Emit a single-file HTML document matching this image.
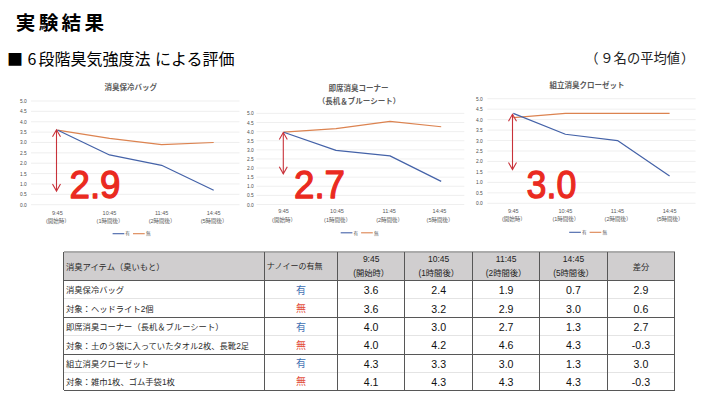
<!DOCTYPE html>
<html lang="ja"><head><meta charset="utf-8">
<style>
html,body{margin:0;padding:0;background:#fff;}
body{width:720px;height:405px;overflow:hidden;position:relative;font-family:"Liberation Sans","Noto Sans CJK JP",sans-serif;color:#000;}
.abs{position:absolute;white-space:nowrap;}
#title{left:15.8px;top:8.6px;font-size:19.6px;font-weight:bold;letter-spacing:3.3px;line-height:28px;}
#sub{left:7px;top:46px;font-size:16px;line-height:24px;}
.sq{font-family:"Noto Sans CJK JP",sans-serif;}
#avg{left:587px;top:49px;font-size:13.3px;line-height:20px;color:#222;}
svg{position:absolute;left:0;top:0;}
.yl{font-size:4.85px;fill:#4d4d4d;text-anchor:end;font-family:"Liberation Sans","Noto Sans CJK JP",sans-serif;}
.xl{font-size:5.5px;fill:#595959;text-anchor:middle;font-family:"Liberation Sans","Noto Sans CJK JP",sans-serif;}
.lg{font-size:4.6px;fill:#595959;font-family:"Liberation Sans","Noto Sans CJK JP",sans-serif;}
.tt{font-size:7.5px;fill:#595959;font-weight:bold;text-anchor:middle;font-family:"Liberation Sans","Noto Sans CJK JP",sans-serif;}
.big{font-size:39.5px;fill:#ea2a20;stroke:#ea2a20;stroke-width:1.3px;stroke-linejoin:round;font-weight:normal;font-family:"Liberation Sans",sans-serif;}
.hbg{position:absolute;background:#d0cecf;}
.ht,.td{position:absolute;white-space:nowrap;display:flex;align-items:center;box-sizing:border-box;}
.c{justify-content:center;text-align:center;}
.ht{font-size:8.3px;color:#2a2a2a;}
.ht2{position:absolute;text-align:center;white-space:nowrap;color:#222;height:12px;line-height:12px;}
.ht2.l1{top:253.3px;font-size:8.5px;}
.ht2.l2{top:267px;font-size:8.3px;}
.td{font-size:8.3px;color:#2a2a2a;}
.td.num{font-size:10.6px;color:#111;padding-top:1.2px;}
.yu{color:#3f70b3;font-size:10px;padding-bottom:0.8px;}
.mu{color:#e24e40;font-size:10px;padding-bottom:0.8px;}
.hl{position:absolute;height:1px;}
.hl.top{background:#ababab;height:1.5px;}
.hl.dark{background:#575757;}
.hl.light{background:#e4e4e4;}
.vl{position:absolute;width:1px;background:#575757;}
</style></head><body>
<div class="abs" id="title">実験結果</div>
<div class="abs" id="sub"><span class="sq">■</span> <span class="sq" style="letter-spacing:2.2px">6</span>段階臭気強度法 による評価</div>
<div class="abs" id="avg"><span style="position:relative;left:-1.7px">（</span>９名の平均値<span style="position:relative;left:1px">）</span></div>
<svg width="720" height="405" viewBox="0 0 720 405">
<line x1="31" y1="204.70" x2="239.50" y2="204.70" stroke="#e6e6e6" stroke-width="0.65"/>
<text x="26.7" y="206.70" class="yl">0.0</text>
<line x1="31" y1="194.33" x2="239.50" y2="194.33" stroke="#e6e6e6" stroke-width="0.65"/>
<text x="26.7" y="196.33" class="yl">0.5</text>
<line x1="31" y1="183.96" x2="239.50" y2="183.96" stroke="#e6e6e6" stroke-width="0.65"/>
<text x="26.7" y="185.96" class="yl">1.0</text>
<line x1="31" y1="173.59" x2="239.50" y2="173.59" stroke="#e6e6e6" stroke-width="0.65"/>
<text x="26.7" y="175.59" class="yl">1.5</text>
<line x1="31" y1="163.22" x2="239.50" y2="163.22" stroke="#e6e6e6" stroke-width="0.65"/>
<text x="26.7" y="165.22" class="yl">2.0</text>
<line x1="31" y1="152.85" x2="239.50" y2="152.85" stroke="#e6e6e6" stroke-width="0.65"/>
<text x="26.7" y="154.85" class="yl">2.5</text>
<line x1="31" y1="142.48" x2="239.50" y2="142.48" stroke="#e6e6e6" stroke-width="0.65"/>
<text x="26.7" y="144.48" class="yl">3.0</text>
<line x1="31" y1="132.11" x2="239.50" y2="132.11" stroke="#e6e6e6" stroke-width="0.65"/>
<text x="26.7" y="134.11" class="yl">3.5</text>
<line x1="31" y1="121.74" x2="239.50" y2="121.74" stroke="#e6e6e6" stroke-width="0.65"/>
<text x="26.7" y="123.74" class="yl">4.0</text>
<line x1="31" y1="111.37" x2="239.50" y2="111.37" stroke="#e6e6e6" stroke-width="0.65"/>
<text x="26.7" y="113.37" class="yl">4.5</text>
<line x1="31" y1="101.00" x2="239.50" y2="101.00" stroke="#e6e6e6" stroke-width="0.65"/>
<text x="26.7" y="103.00" class="yl">5.0</text>
<text x="57.40" y="214.70" class="xl">9:45</text>
<text x="57.90" y="222.50" class="xl">(開始時）</text>
<text x="109.50" y="214.70" class="xl">10:45</text>
<text x="110.00" y="222.50" class="xl">(1時間後）</text>
<text x="161.60" y="214.70" class="xl">11:45</text>
<text x="162.10" y="222.50" class="xl">(2時間後）</text>
<text x="213.70" y="214.70" class="xl">14:45</text>
<text x="214.20" y="222.50" class="xl">(5時間後）</text>
<text x="130.8" y="90.30" class="tt">消臭保冷バッグ</text>
<polyline points="57.40,130.04 109.50,138.33 161.60,144.55 213.70,142.48" fill="none" stroke="#dc8350" stroke-width="1.2" stroke-linejoin="round"/>
<polyline points="57.40,130.04 109.50,154.92 161.60,165.29 213.70,190.18" fill="none" stroke="#4462a8" stroke-width="1.2" stroke-linejoin="round"/>
<line x1="112.6" y1="233.7" x2="124.3" y2="233.7" stroke="#4462a8" stroke-width="1.1"/>
<text x="125.3" y="235.39999999999998" class="lg">有</text>
<line x1="133.0" y1="233.7" x2="144.7" y2="233.7" stroke="#dc8350" stroke-width="1.1"/>
<text x="146.0" y="235.39999999999998" class="lg">無</text>
<line x1="56.5" y1="129.8" x2="56.5" y2="191.1" stroke="#c8323a" stroke-width="1.1"/>
<polyline points="52.5,136.8 56.5,129.8 60.5,136.8" fill="none" stroke="#c8323a" stroke-width="1.1"/>
<polyline points="52.5,184.1 56.5,191.1 60.5,184.1" fill="none" stroke="#c8323a" stroke-width="1.1"/>
<text transform="translate(69.50,197.50) scale(0.93,1)" class="big">2.9</text>
<line x1="256.5" y1="204.50" x2="464.30" y2="204.50" stroke="#e6e6e6" stroke-width="0.65"/>
<text x="253.8" y="206.50" class="yl">0.0</text>
<line x1="256.5" y1="195.39" x2="464.30" y2="195.39" stroke="#e6e6e6" stroke-width="0.65"/>
<text x="253.8" y="197.39" class="yl">0.5</text>
<line x1="256.5" y1="186.28" x2="464.30" y2="186.28" stroke="#e6e6e6" stroke-width="0.65"/>
<text x="253.8" y="188.28" class="yl">1.0</text>
<line x1="256.5" y1="177.17" x2="464.30" y2="177.17" stroke="#e6e6e6" stroke-width="0.65"/>
<text x="253.8" y="179.17" class="yl">1.5</text>
<line x1="256.5" y1="168.06" x2="464.30" y2="168.06" stroke="#e6e6e6" stroke-width="0.65"/>
<text x="253.8" y="170.06" class="yl">2.0</text>
<line x1="256.5" y1="158.95" x2="464.30" y2="158.95" stroke="#e6e6e6" stroke-width="0.65"/>
<text x="253.8" y="160.95" class="yl">2.5</text>
<line x1="256.5" y1="149.84" x2="464.30" y2="149.84" stroke="#e6e6e6" stroke-width="0.65"/>
<text x="253.8" y="151.84" class="yl">3.0</text>
<line x1="256.5" y1="140.73" x2="464.30" y2="140.73" stroke="#e6e6e6" stroke-width="0.65"/>
<text x="253.8" y="142.73" class="yl">3.5</text>
<line x1="256.5" y1="131.62" x2="464.30" y2="131.62" stroke="#e6e6e6" stroke-width="0.65"/>
<text x="253.8" y="133.62" class="yl">4.0</text>
<line x1="256.5" y1="122.51" x2="464.30" y2="122.51" stroke="#e6e6e6" stroke-width="0.65"/>
<text x="253.8" y="124.51" class="yl">4.5</text>
<line x1="256.5" y1="113.40" x2="464.30" y2="113.40" stroke="#e6e6e6" stroke-width="0.65"/>
<text x="253.8" y="115.40" class="yl">5.0</text>
<text x="283.50" y="213.30" class="xl">9:45</text>
<text x="284.00" y="221.90" class="xl">(開始時）</text>
<text x="337.00" y="213.30" class="xl">10:45</text>
<text x="337.50" y="221.90" class="xl">(1時間後）</text>
<text x="389.20" y="213.30" class="xl">11:45</text>
<text x="389.70" y="221.90" class="xl">(2時間後）</text>
<text x="439.50" y="213.30" class="xl">14:45</text>
<text x="440.00" y="221.90" class="xl">(5時間後）</text>
<text x="358.6" y="91.10" class="tt">即席消臭コーナー</text>
<text x="359" y="104.20" class="tt">（長机＆ブルーシート）</text>
<polyline points="283.70,132.22 336.00,128.58 390.00,121.29 441.20,126.75" fill="none" stroke="#dc8350" stroke-width="1.2" stroke-linejoin="round"/>
<polyline points="283.70,132.22 336.00,150.44 390.00,155.91 441.20,181.41" fill="none" stroke="#4462a8" stroke-width="1.2" stroke-linejoin="round"/>
<line x1="340.7" y1="232.8" x2="352.4" y2="232.8" stroke="#4462a8" stroke-width="1.1"/>
<text x="353.4" y="234.5" class="lg">有</text>
<line x1="361.09999999999997" y1="232.8" x2="372.8" y2="232.8" stroke="#dc8350" stroke-width="1.1"/>
<text x="374.09999999999997" y="234.5" class="lg">無</text>
<line x1="283.3" y1="132.5" x2="283.3" y2="173.8" stroke="#c8323a" stroke-width="1.1"/>
<polyline points="279.3,139.5 283.3,132.5 287.3,139.5" fill="none" stroke="#c8323a" stroke-width="1.1"/>
<polyline points="279.3,166.8 283.3,173.8 287.3,166.8" fill="none" stroke="#c8323a" stroke-width="1.1"/>
<text transform="translate(294.00,197.50) scale(0.93,1)" class="big">2.7</text>
<line x1="487.4" y1="203.30" x2="695.60" y2="203.30" stroke="#e6e6e6" stroke-width="0.65"/>
<text x="482.8" y="205.30" class="yl">0.0</text>
<line x1="487.4" y1="192.84" x2="695.60" y2="192.84" stroke="#e6e6e6" stroke-width="0.65"/>
<text x="482.8" y="194.84" class="yl">0.5</text>
<line x1="487.4" y1="182.38" x2="695.60" y2="182.38" stroke="#e6e6e6" stroke-width="0.65"/>
<text x="482.8" y="184.38" class="yl">1.0</text>
<line x1="487.4" y1="171.92" x2="695.60" y2="171.92" stroke="#e6e6e6" stroke-width="0.65"/>
<text x="482.8" y="173.92" class="yl">1.5</text>
<line x1="487.4" y1="161.46" x2="695.60" y2="161.46" stroke="#e6e6e6" stroke-width="0.65"/>
<text x="482.8" y="163.46" class="yl">2.0</text>
<line x1="487.4" y1="151.00" x2="695.60" y2="151.00" stroke="#e6e6e6" stroke-width="0.65"/>
<text x="482.8" y="153.00" class="yl">2.5</text>
<line x1="487.4" y1="140.54" x2="695.60" y2="140.54" stroke="#e6e6e6" stroke-width="0.65"/>
<text x="482.8" y="142.54" class="yl">3.0</text>
<line x1="487.4" y1="130.08" x2="695.60" y2="130.08" stroke="#e6e6e6" stroke-width="0.65"/>
<text x="482.8" y="132.08" class="yl">3.5</text>
<line x1="487.4" y1="119.62" x2="695.60" y2="119.62" stroke="#e6e6e6" stroke-width="0.65"/>
<text x="482.8" y="121.62" class="yl">4.0</text>
<line x1="487.4" y1="109.16" x2="695.60" y2="109.16" stroke="#e6e6e6" stroke-width="0.65"/>
<text x="482.8" y="111.16" class="yl">4.5</text>
<line x1="487.4" y1="98.70" x2="695.60" y2="98.70" stroke="#e6e6e6" stroke-width="0.65"/>
<text x="482.8" y="100.70" class="yl">5.0</text>
<text x="513.30" y="212.70" class="xl">9:45</text>
<text x="513.80" y="221.40" class="xl">(開始時）</text>
<text x="565.40" y="212.70" class="xl">10:45</text>
<text x="565.90" y="221.40" class="xl">(1時間後）</text>
<text x="617.50" y="212.70" class="xl">11:45</text>
<text x="618.00" y="221.40" class="xl">(2時間後）</text>
<text x="669.60" y="212.70" class="xl">14:45</text>
<text x="670.10" y="221.40" class="xl">(5時間後）</text>
<text x="587" y="88.10" class="tt">組立消臭クローゼット</text>
<polyline points="513.30,117.53 565.40,113.34 617.50,113.34 669.60,113.34" fill="none" stroke="#dc8350" stroke-width="1.2" stroke-linejoin="round"/>
<polyline points="513.30,113.34 565.40,134.26 617.50,140.54 669.60,176.10" fill="none" stroke="#4462a8" stroke-width="1.2" stroke-linejoin="round"/>
<line x1="569.2" y1="232.3" x2="580.9000000000001" y2="232.3" stroke="#4462a8" stroke-width="1.1"/>
<text x="581.9000000000001" y="234.0" class="lg">有</text>
<line x1="589.6" y1="232.3" x2="601.3000000000001" y2="232.3" stroke="#dc8350" stroke-width="1.1"/>
<text x="602.6" y="234.0" class="lg">無</text>
<line x1="512.5" y1="114.3" x2="512.5" y2="169.6" stroke="#c8323a" stroke-width="1.1"/>
<polyline points="508.5,121.3 512.5,114.3 516.5,121.3" fill="none" stroke="#c8323a" stroke-width="1.1"/>
<polyline points="508.5,162.6 512.5,169.6 516.5,162.6" fill="none" stroke="#c8323a" stroke-width="1.1"/>
<text transform="translate(526.60,197.50) scale(0.905,1)" class="big">3.0</text>
</svg>
<div class="hbg" style="left:63.5px;top:251.5px;width:611.1px;height:28.600000000000023px"></div>
<div class="ht one" style="left:66.0px;width:200.8px;top:251.5px;height:28.600000000000023px;">消臭アイテム（臭いもと）</div>
<div class="ht one" style="left:266.8px;width:73.19999999999999px;top:251.5px;height:28.600000000000023px;font-size:8px;">ナノイーの有無</div>
<div class="ht2 l1" style="left:337.5px;width:67.30000000000001px;">9:45</div>
<div class="ht2 l2" style="left:337.5px;width:67.30000000000001px;">(開始時）</div>
<div class="ht2 l1" style="left:404.8px;width:67.80000000000001px;">10:45</div>
<div class="ht2 l2" style="left:404.8px;width:67.80000000000001px;">(1時間後）</div>
<div class="ht2 l1" style="left:472.6px;width:67.10000000000002px;">11:45</div>
<div class="ht2 l2" style="left:472.6px;width:67.10000000000002px;">(2時間後）</div>
<div class="ht2 l1" style="left:539.7px;width:67.59999999999991px;">14:45</div>
<div class="ht2 l2" style="left:539.7px;width:67.59999999999991px;">(5時間後）</div>
<div class="ht one c" style="left:607.3px;width:67.30000000000007px;top:251.5px;height:28.600000000000023px">差分</div>
<div class="td name" style="left:66.0px;width:200.8px;top:280.1px;height:18.799999999999955px">消臭保冷バッグ</div>
<div class="td c yu" style="left:264.3px;width:73.19999999999999px;top:280.1px;height:18.799999999999955px">有</div>
<div class="td c num" style="left:337.5px;width:67.30000000000001px;top:280.1px;height:18.799999999999955px">3.6</div>
<div class="td c num" style="left:404.8px;width:67.80000000000001px;top:280.1px;height:18.799999999999955px">2.4</div>
<div class="td c num" style="left:472.6px;width:67.10000000000002px;top:280.1px;height:18.799999999999955px">1.9</div>
<div class="td c num" style="left:539.7px;width:67.59999999999991px;top:280.1px;height:18.799999999999955px">0.7</div>
<div class="td c num" style="left:607.3px;width:67.30000000000007px;top:280.1px;height:18.799999999999955px">2.9</div>
<div class="td name" style="left:66.0px;width:200.8px;top:298.9px;height:18.600000000000023px">対象：ヘッドライト2個</div>
<div class="td c mu" style="left:264.3px;width:73.19999999999999px;top:298.9px;height:18.600000000000023px">無</div>
<div class="td c num" style="left:337.5px;width:67.30000000000001px;top:298.9px;height:18.600000000000023px">3.6</div>
<div class="td c num" style="left:404.8px;width:67.80000000000001px;top:298.9px;height:18.600000000000023px">3.2</div>
<div class="td c num" style="left:472.6px;width:67.10000000000002px;top:298.9px;height:18.600000000000023px">2.9</div>
<div class="td c num" style="left:539.7px;width:67.59999999999991px;top:298.9px;height:18.600000000000023px">3.0</div>
<div class="td c num" style="left:607.3px;width:67.30000000000007px;top:298.9px;height:18.600000000000023px">0.6</div>
<div class="td name" style="left:66.0px;width:200.8px;top:317.5px;height:17.899999999999977px">即席消臭コーナー（長机＆ブルーシート）</div>
<div class="td c yu" style="left:264.3px;width:73.19999999999999px;top:317.5px;height:17.899999999999977px">有</div>
<div class="td c num" style="left:337.5px;width:67.30000000000001px;top:317.5px;height:17.899999999999977px">4.0</div>
<div class="td c num" style="left:404.8px;width:67.80000000000001px;top:317.5px;height:17.899999999999977px">3.0</div>
<div class="td c num" style="left:472.6px;width:67.10000000000002px;top:317.5px;height:17.899999999999977px">2.7</div>
<div class="td c num" style="left:539.7px;width:67.59999999999991px;top:317.5px;height:17.899999999999977px">1.3</div>
<div class="td c num" style="left:607.3px;width:67.30000000000007px;top:317.5px;height:17.899999999999977px">2.7</div>
<div class="td name" style="left:66.0px;width:200.8px;top:335.4px;height:18.600000000000023px">対象：土のう袋に入っていたタオル2枚、長靴2足</div>
<div class="td c mu" style="left:264.3px;width:73.19999999999999px;top:335.4px;height:18.600000000000023px">無</div>
<div class="td c num" style="left:337.5px;width:67.30000000000001px;top:335.4px;height:18.600000000000023px">4.0</div>
<div class="td c num" style="left:404.8px;width:67.80000000000001px;top:335.4px;height:18.600000000000023px">4.2</div>
<div class="td c num" style="left:472.6px;width:67.10000000000002px;top:335.4px;height:18.600000000000023px">4.6</div>
<div class="td c num" style="left:539.7px;width:67.59999999999991px;top:335.4px;height:18.600000000000023px">4.3</div>
<div class="td c num" style="left:607.3px;width:67.30000000000007px;top:335.4px;height:18.600000000000023px">-0.3</div>
<div class="td name" style="left:66.0px;width:200.8px;top:354.0px;height:18.399999999999977px">組立消臭クローゼット</div>
<div class="td c yu" style="left:264.3px;width:73.19999999999999px;top:354.0px;height:18.399999999999977px">有</div>
<div class="td c num" style="left:337.5px;width:67.30000000000001px;top:354.0px;height:18.399999999999977px">4.3</div>
<div class="td c num" style="left:404.8px;width:67.80000000000001px;top:354.0px;height:18.399999999999977px">3.3</div>
<div class="td c num" style="left:472.6px;width:67.10000000000002px;top:354.0px;height:18.399999999999977px">3.0</div>
<div class="td c num" style="left:539.7px;width:67.59999999999991px;top:354.0px;height:18.399999999999977px">1.3</div>
<div class="td c num" style="left:607.3px;width:67.30000000000007px;top:354.0px;height:18.399999999999977px">3.0</div>
<div class="td name" style="left:66.0px;width:200.8px;top:372.4px;height:17.900000000000034px">対象：雑巾1枚、ゴム手袋1枚</div>
<div class="td c mu" style="left:264.3px;width:73.19999999999999px;top:372.4px;height:17.900000000000034px">無</div>
<div class="td c num" style="left:337.5px;width:67.30000000000001px;top:372.4px;height:17.900000000000034px">4.1</div>
<div class="td c num" style="left:404.8px;width:67.80000000000001px;top:372.4px;height:17.900000000000034px">4.3</div>
<div class="td c num" style="left:472.6px;width:67.10000000000002px;top:372.4px;height:17.900000000000034px">4.3</div>
<div class="td c num" style="left:539.7px;width:67.59999999999991px;top:372.4px;height:17.900000000000034px">4.3</div>
<div class="td c num" style="left:607.3px;width:67.30000000000007px;top:372.4px;height:17.900000000000034px">-0.3</div>
<div class="hl top" style="left:63.5px;top:251.0px;width:611.1px"></div>
<div class="hl dark" style="left:63.5px;top:279.6px;width:611.1px"></div>
<div class="hl light" style="left:63.5px;top:298.4px;width:611.1px"></div>
<div class="hl dark" style="left:63.5px;top:317.0px;width:611.1px"></div>
<div class="hl light" style="left:63.5px;top:334.9px;width:611.1px"></div>
<div class="hl dark" style="left:63.5px;top:353.5px;width:611.1px"></div>
<div class="hl light" style="left:63.5px;top:371.9px;width:611.1px"></div>
<div class="hl dark" style="left:63.5px;top:389.8px;width:611.1px"></div>
<div class="vl" style="left:63.0px;top:251.5px;height:138.8px"></div>
<div class="vl" style="left:263.8px;top:251.5px;height:138.8px"></div>
<div class="vl" style="left:337.0px;top:251.5px;height:138.8px"></div>
<div class="vl" style="left:404.3px;top:251.5px;height:138.8px"></div>
<div class="vl" style="left:472.1px;top:251.5px;height:138.8px"></div>
<div class="vl" style="left:539.2px;top:251.5px;height:138.8px"></div>
<div class="vl" style="left:606.8px;top:251.5px;height:138.8px"></div>
<div class="vl" style="left:674.1px;top:251.5px;height:138.8px"></div>
</body></html>
